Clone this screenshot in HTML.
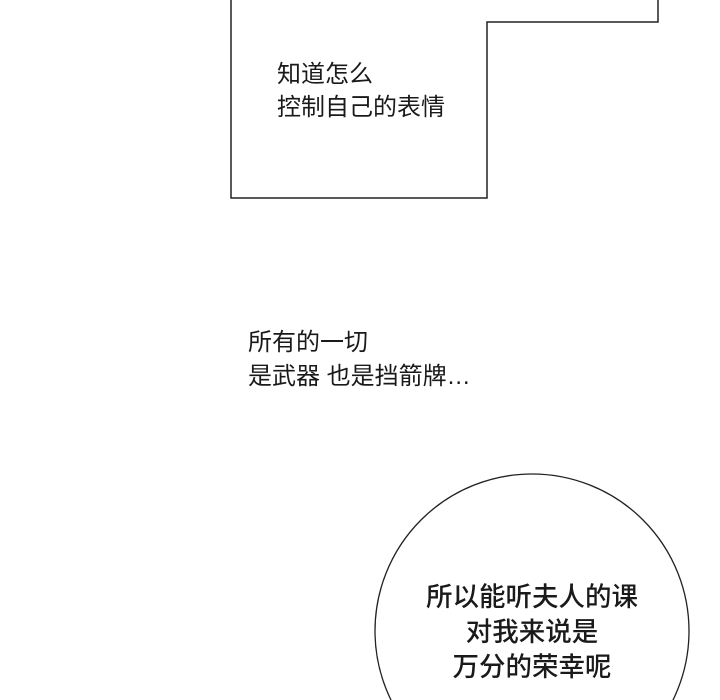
<!DOCTYPE html>
<html><head><meta charset="utf-8"><style>
html,body{margin:0;padding:0;background:#fff;width:720px;height:700px;overflow:hidden;}
body{position:relative;font-family:"Liberation Sans","Noto Sans CJK SC",sans-serif;color:#1a1a1a;}
.t{position:absolute;white-space:nowrap;}
</style></head><body>
<svg width="720" height="700" style="position:absolute;left:0;top:0;display:block">
<polyline points="231,0 231,198 487,198 487,22 658,22 658,0" fill="none" stroke="#222" stroke-width="1.5"/>
<circle cx="532" cy="631" r="157" fill="#fff" stroke="#222" stroke-width="1.3"/>
</svg>
<div class="t" style="left:277px;top:58px;font-size:24px;line-height:33px;">知道怎么<br>控制自己的表情</div>
<div class="t" style="left:248px;top:326px;font-size:24px;line-height:34px;">所有的一切<br>是武器 也是挡箭牌…</div>
<div class="t" style="left:382px;top:580px;width:300px;text-align:center;font-size:26.5px;line-height:35px;font-weight:500;">所以能听夫人的课<br>对我来说是<br>万分的荣幸呢</div>
</body></html>
